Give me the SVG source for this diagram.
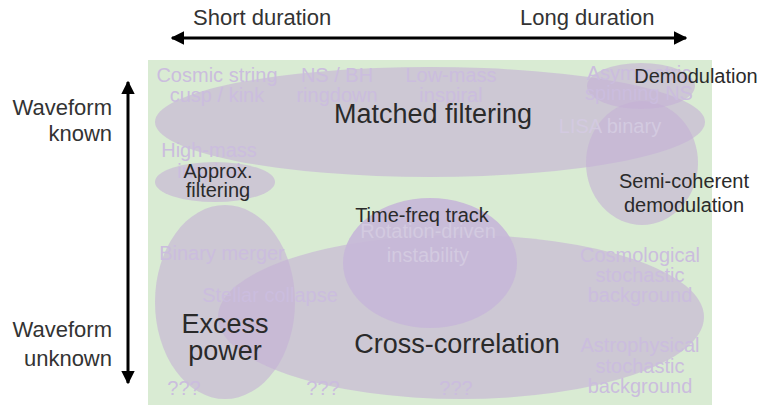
<svg xmlns="http://www.w3.org/2000/svg" width="763" height="406" viewBox="0 0 763 406">
  <defs>
    <marker id="head" viewBox="0 0 10 10" refX="9" refY="5" markerWidth="4.5" markerHeight="4.5" orient="auto-start-reverse" markerUnits="strokeWidth">
      <path d="M0,0 L10,5 L0,10 Z" fill="#000"/>
    </marker>
    <style>
      text { font-family: "Liberation Sans", Arial, sans-serif; }
      .axis { font-size: 22px; fill: #333; }
      .method { fill: #c5b1d6; fill-opacity: 0.6; }
      .track { fill: #c7b7d8; fill-opacity: 0.92; }
      .src { font-size: 20px; fill: #cbbdde; text-anchor: middle; }
      .src.pale { fill: #d3cae0; }
      .lbl { fill: #2a2a2a; text-anchor: middle; }
      .big { font-size: 27px; }
      .mid { font-size: 20px; }
      .arrow { stroke: #000; stroke-width: 3; fill: none; }
    </style>
  </defs>

  <rect width="763" height="406" fill="#fff"/>
  <!-- search-space backdrop -->
  <rect x="148" y="60" width="564" height="345" fill="#d9ebd3"/>

  <!-- method regions -->
  <g id="matched-filtering">
    <ellipse class="method" cx="430" cy="122" rx="275" ry="55"/>
  </g>
  <g id="approx-filtering">
    <ellipse class="method" cx="215" cy="182" rx="60" ry="20"/>
  </g>
  <g id="excess-power">
    <ellipse class="method" cx="225" cy="302" rx="70" ry="97"/>
  </g>
  <g id="cross-correlation">
    <ellipse class="method" cx="461" cy="317" rx="243" ry="82"/>
  </g>
  <g id="semi-coherent">
    <ellipse class="method" cx="642" cy="163" rx="56" ry="62"/>
  </g>
  <g id="demodulation">
    <ellipse class="method" cx="641" cy="86" rx="54" ry="23"/>
  </g>
  <g id="time-freq-track">
    <ellipse class="track" cx="430" cy="263" rx="87" ry="65"/>
  </g>

  <!-- sources -->
  <g id="sources">
    <text class="src" x="217" y="82">Cosmic string</text>
    <text class="src" x="217" y="102">cusp / kink</text>
    <text class="src" x="337" y="82">NS / BH</text>
    <text class="src" x="337" y="102">ringdown</text>
    <text class="src" x="451" y="82">Low-mass</text>
    <text class="src" x="451" y="102">inspiral</text>
    <text class="src" x="639" y="80">Asymmetric</text>
    <text class="src" x="639" y="100">spinning NS</text>
    <text class="src pale" x="610" y="133">LISA binary</text>
    <text class="src" x="209" y="157">High-mass</text>
    <text class="src" x="209" y="178">inspiral</text>
    <text class="src pale" x="428" y="238">Rotation-driven</text>
    <text class="src pale" x="428" y="262">instability</text>
    <text class="src" x="222" y="260">Binary merger</text>
    <text class="src" x="270" y="302">Stellar collapse</text>
    <text class="src" x="640" y="262">Cosmological</text>
    <text class="src" x="640" y="282">stochastic</text>
    <text class="src" x="640" y="302">background</text>
    <text class="src" x="640" y="352">Astrophysical</text>
    <text class="src" x="640" y="373">stochastic</text>
    <text class="src" x="640" y="393">background</text>
    <text class="src" x="184" y="395">???</text>
    <text class="src" x="323" y="395">???</text>
    <text class="src" x="456" y="395">???</text>
  </g>

  <!-- method labels -->
  <g id="method-labels">
    <text class="lbl big" x="433" y="123">Matched filtering</text>
    <text class="lbl mid" x="218" y="178">Approx.</text>
    <text class="lbl mid" x="218" y="197">filtering</text>
    <text class="lbl mid" x="696" y="83">Demodulation</text>
    <text class="lbl mid" x="684" y="188">Semi-coherent</text>
    <text class="lbl mid" x="684" y="212">demodulation</text>
    <text class="lbl mid" x="422" y="222">Time-freq track</text>
    <text class="lbl big" x="225" y="333">Excess</text>
    <text class="lbl big" x="225" y="360">power</text>
    <text class="lbl big" x="457" y="353">Cross-correlation</text>
  </g>

  <!-- axes -->
  <g id="connectors">
    <line class="arrow" x1="172" y1="38" x2="686" y2="38" marker-start="url(#head)" marker-end="url(#head)"/>
    <line class="arrow" x1="128" y1="82" x2="128" y2="383" marker-start="url(#head)" marker-end="url(#head)"/>
  </g>
  <g id="axis-labels">
    <text class="axis" x="193" y="25">Short duration</text>
    <text class="axis" x="520" y="25">Long duration</text>
    <text class="axis" x="112" y="115" text-anchor="end" font-size="23">Waveform</text>
    <text class="axis" x="112" y="141" text-anchor="end" font-size="23">known</text>
    <text class="axis" x="112" y="337" text-anchor="end" font-size="23">Waveform</text>
    <text class="axis" x="112" y="366" text-anchor="end" font-size="23">unknown</text>
  </g>
</svg>
